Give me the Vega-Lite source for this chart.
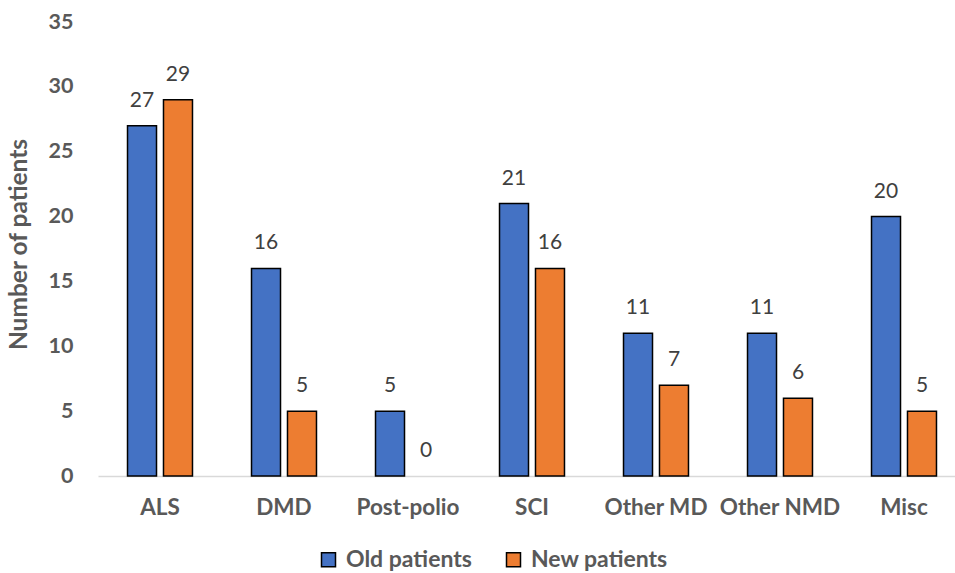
{
  "$schema": "https://vega.github.io/schema/vega-lite/v6.json",
  "width": 857,
  "height": 454,
  "autosize": {"type": "none"},
  "padding": {"left": 98, "top": 22, "right": 0, "bottom": 97},
  "config": {
    "view": {"stroke": null},
    "font": "Lato"
  },
  "data": {
    "values": [
      {"Category": "ALS", "Group": "Old patients", "Patients": 27},
      {"Category": "ALS", "Group": "New patients", "Patients": 29},
      {"Category": "DMD", "Group": "Old patients", "Patients": 16},
      {"Category": "DMD", "Group": "New patients", "Patients": 5},
      {"Category": "Post-polio", "Group": "Old patients", "Patients": 5},
      {"Category": "Post-polio", "Group": "New patients", "Patients": 0},
      {"Category": "SCI", "Group": "Old patients", "Patients": 21},
      {"Category": "SCI", "Group": "New patients", "Patients": 16},
      {"Category": "Other MD", "Group": "Old patients", "Patients": 11},
      {"Category": "Other MD", "Group": "New patients", "Patients": 7},
      {"Category": "Other NMD", "Group": "Old patients", "Patients": 11},
      {"Category": "Other NMD", "Group": "New patients", "Patients": 6},
      {"Category": "Misc", "Group": "Old patients", "Patients": 20},
      {"Category": "Misc", "Group": "New patients", "Patients": 5}
    ]
  },
  "encoding": {
    "x": {
      "field": "Category",
      "type": "nominal",
      "sort": ["ALS", "DMD", "Post-polio", "SCI", "Other MD", "Other NMD", "Misc"],
      "scale": {"range": [0, 868], "paddingInner": 0.476, "paddingOuter": 0.238},
      "axis": {
        "title": null,
        "labelAngle": 0,
        "labelFont": "Lato",
        "labelFontSize": 22.5,
        "labelFontWeight": "bold",
        "labelColor": "#595959",
        "labelPadding": 20,
        "ticks": false,
        "tickSize": 0,
        "domainColor": "#D9D9D9",
        "domainWidth": 1.5,
        "grid": false
      }
    },
    "xOffset": {
      "field": "Group",
      "type": "nominal",
      "sort": ["Old patients", "New patients"],
      "scale": {"paddingInner": 0.194, "paddingOuter": 0}
    },
    "y": {
      "field": "Patients",
      "type": "quantitative",
      "scale": {"domain": [0, 35], "nice": false},
      "axis": {
        "title": "Number of patients",
        "titleFont": "Lato",
        "titleFontSize": 24.5,
        "titleFontWeight": "bold",
        "titleColor": "#595959",
        "titlePadding": 17,
        "titleY": 222,
        "values": [0, 5, 10, 15, 20, 25, 30, 35],
        "labelFont": "Lato",
        "labelFontSize": 21.5,
        "labelFontWeight": "bold",
        "labelColor": "#595959",
        "labelPadding": 25,
        "ticks": false,
        "tickSize": 0,
        "domain": false,
        "grid": false
      }
    }
  },
  "layer": [
    {
      "mark": {"type": "bar", "stroke": "#000000", "strokeWidth": 1.5},
      "encoding": {
        "color": {
          "field": "Group",
          "type": "nominal",
          "sort": ["Old patients", "New patients"],
          "scale": {"domain": ["Old patients", "New patients"], "range": ["#4472C4", "#ED7D31"]},
          "legend": {
            "title": null,
            "orient": "none",
            "direction": "horizontal",
            "legendX": 219,
            "legendY": 526,
            "padding": 0,
            "symbolType": "square",
            "symbolSize": 196,
            "symbolStrokeColor": "#000000",
            "symbolStrokeWidth": 1.5,
            "symbolOpacity": 1,
            "labelFont": "Lato",
            "labelFontSize": 23,
            "labelFontWeight": "bold",
            "labelColor": "#595959",
            "labelOffset": 6,
            "columnPadding": 30
          }
        },
        "strokeOpacity": {
          "condition": {"test": "datum.Patients === 0", "value": 0},
          "value": 1
        }
      }
    },
    {
      "mark": {"type": "text", "baseline": "alphabetic", "dy": -19, "fontSize": 21, "color": "#404040", "font": "Lato"},
      "encoding": {
        "text": {"field": "Patients", "type": "quantitative"}
      }
    }
  ]
}
